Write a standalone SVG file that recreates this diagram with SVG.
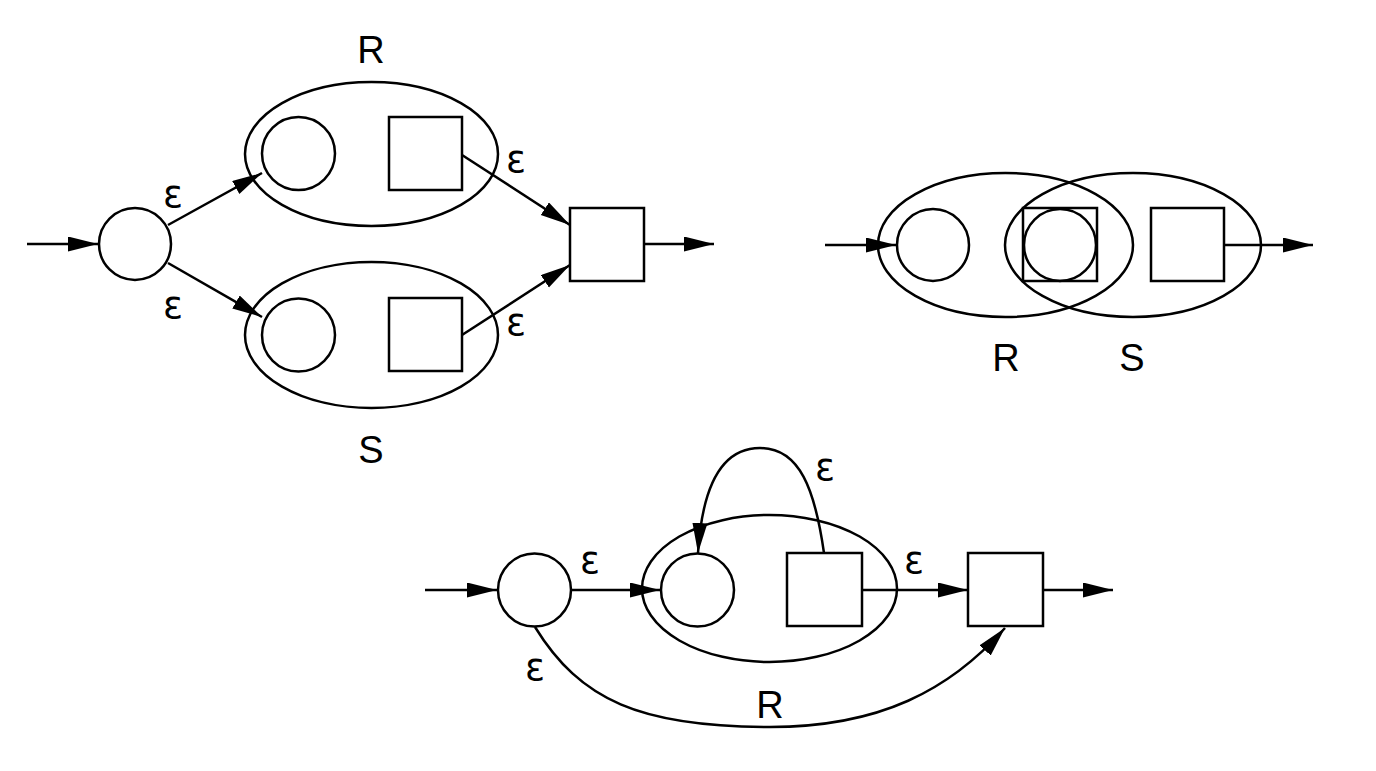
<svg xmlns="http://www.w3.org/2000/svg" width="1376" height="771" viewBox="0 0 1376 771">
<defs>
<marker id="ah" markerUnits="userSpaceOnUse" markerWidth="30" markerHeight="16" refX="30" refY="7.5" orient="auto"><path d="M0,0 L30,7.5 L0,15 z" fill="#000"/></marker>
<style>
.s{fill:none;stroke:#000;stroke-width:2.5}
.e{stroke:#000;stroke-width:2.5;fill:none;marker-end:url(#ah)}
.lab{font-family:"Liberation Sans",Arial,sans-serif;font-size:38px;fill:#000;text-anchor:middle}
.eps{font-family:"DejaVu Sans",sans-serif;font-size:37px;fill:#000;text-anchor:middle}
</style>
</defs>
<rect width="1376" height="771" fill="#fff"/>
<!-- Top-left: union -->
<g id="union">
<g id="u-start"><circle class="s" cx="135" cy="244" r="36"/></g>
<g id="u-R"><ellipse class="s" cx="371.5" cy="154" rx="126.5" ry="72"/><circle class="s" cx="298.5" cy="153.5" r="36.5"/><rect class="s" x="389" y="117" width="73" height="73"/><text class="lab" x="371" y="63">R</text></g>
<g id="u-S"><ellipse class="s" cx="371.5" cy="335" rx="126.5" ry="73"/><circle class="s" cx="298.5" cy="335" r="36.5"/><rect class="s" x="389" y="298" width="73" height="73"/><text class="lab" x="371" y="463">S</text></g>
<g id="u-final"><rect class="s" x="570" y="208" width="74" height="73"/></g>
</g>
<!-- Top-right: concatenation -->
<g id="concat">
<g id="c-R"><ellipse class="s" cx="1005.5" cy="245" rx="127.5" ry="72"/><text class="lab" x="1006" y="371">R</text></g>
<g id="c-S"><ellipse class="s" cx="1133" cy="245" rx="128" ry="72"/><text class="lab" x="1132" y="371">S</text></g>
<g id="c-start"><circle class="s" cx="933" cy="245" r="36"/></g>
<g id="c-mid"><rect class="s" x="1023" y="208" width="74" height="73"/><circle class="s" cx="1060" cy="245" r="36"/></g>
<g id="c-final"><rect class="s" x="1151" y="208" width="73" height="73"/></g>
</g>
<!-- Bottom: Kleene star -->
<g id="star">
<g id="k-start"><circle class="s" cx="534.5" cy="590" r="36.5"/></g>
<g id="k-R"><ellipse class="s" cx="769.5" cy="588.5" rx="127.5" ry="73.5"/><circle class="s" cx="697.5" cy="590" r="36.5"/><rect class="s" x="787" y="553" width="75" height="73"/></g>
<g id="k-final"><rect class="s" x="968" y="553" width="75" height="73"/></g>
</g>
<g id="connectors">
<line class="e" x1="27" y1="244" x2="98" y2="244"/>
<line class="e" x1="168" y1="225" x2="262" y2="173"/>
<line class="e" x1="168" y1="263" x2="262" y2="317"/>
<line class="e" x1="462" y1="155" x2="570" y2="225"/>
<line class="e" x1="462" y1="335" x2="570" y2="265"/>
<line class="e" x1="644" y1="244" x2="714" y2="244"/>
<line class="e" x1="825" y1="245" x2="896" y2="245"/>
<line class="e" x1="1224" y1="245" x2="1313" y2="245"/>
<line class="e" x1="425" y1="590" x2="497" y2="590"/>
<line class="e" x1="571" y1="590" x2="660" y2="590"/>
<line class="e" x1="862" y1="590" x2="968" y2="590"/>
<line class="e" x1="1043" y1="590" x2="1113" y2="590"/>
<path class="e" d="M824,553 C815,490 800,448 760,448 C720,448 702,490 698,553"/>
<path class="e" d="M535,627 C580,700 640,727 770,727 C880,727 950,690 1005,628"/>
<text class="eps" x="173" y="207">ε</text>
<text class="eps" x="173" y="318">ε</text>
<text class="eps" x="516" y="172">ε</text>
<text class="eps" x="516" y="335">ε</text>
<text class="eps" x="590" y="573">ε</text>
<text class="eps" x="914" y="573">ε</text>
<text class="eps" x="535" y="680">ε</text>
<text class="eps" x="825" y="480">ε</text>
<text class="lab" x="770" y="718">R</text>
</g>
</svg>
